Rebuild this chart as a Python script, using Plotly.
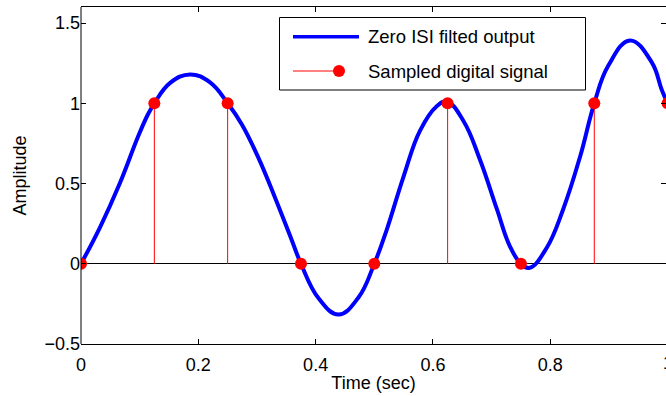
import plotly.graph_objects as go

# Zero-ISI filter output over one second
t_curve = [0, 0.032, 0.066, 0.097, 0.114, 0.125, 0.152, 0.186, 0.220, 0.25,
           0.274, 0.3025, 0.331, 0.359, 0.375, 0.405, 0.439, 0.473, 0.5,
           0.521, 0.55, 0.578, 0.606, 0.624, 0.652, 0.680, 0.709, 0.731, 0.75,
           0.765, 0.794, 0.822, 0.851, 0.875, 0.899, 0.936, 0.973, 0.99, 1.0]
amp_curve = [0, 0.224, 0.50, 0.79, 0.93, 1.0, 1.127, 1.18, 1.13, 1.0,
             0.87, 0.66, 0.41, 0.15, 0, -0.215, -0.316, -0.21, 0,
             0.21, 0.545, 0.83, 0.98, 1.01, 0.89, 0.65, 0.34, 0.11, 0,
             -0.025, 0.10, 0.34, 0.67, 1.0, 1.235, 1.392, 1.255, 1.085, 1.0]

# Digital samples, one every 0.125 s
t_samples = [0, 0.125, 0.25, 0.375, 0.5, 0.625, 0.75, 0.875, 1.0]
bits = [0, 1, 1, 0, 0, 1, 0, 1, 1]

x_ticks = [0, 0.2, 0.4, 0.6, 0.8]
x_tick_text = ["0", "0.2", "0.4", "0.6", "0.8"]
y_ticks = [-0.5, 0, 0.5, 1, 1.5]
y_tick_text = ["\u22120.5", "0", "0.5", "1", "1.5"]

legend_labels = ["Zero ISI filted output", "Sampled digital signal"]

FONT = "Liberation Sans, Arial, Helvetica, sans-serif"
W, H = 666, 396
PL, PT, PR, PB = 81, 7, 0, 52
PW, PH = W - PL - PR, H - PT - PB


def px_x(px):
    return (px - PL) / PW


def px_y(py):
    return (PT + PH - py) / PH


# stem lines from the baseline up to each sample
stem_x, stem_y = [], []
for t, b in zip(t_samples, bits):
    stem_x += [t, t, None]
    stem_y += [0, b, None]

fig = go.Figure()
fig.add_trace(go.Scatter(x=t_curve, y=amp_curve, mode="lines",
                         line=dict(color="#0000FF", width=4, shape="spline",
                                   smoothing=1.2),
                         name=legend_labels[0], showlegend=False))
fig.add_trace(go.Scatter(x=stem_x, y=stem_y, mode="lines",
                         line=dict(color="#FF0000", width=1),
                         showlegend=False, hoverinfo="skip"))
fig.add_trace(go.Scatter(x=t_samples, y=bits, mode="markers",
                         marker=dict(color="#FF0000", size=12),
                         name=legend_labels[1], showlegend=False))

# x spans slightly less than 1 so that t = 1 sits on the page edge
x_end = PW / 586.6

fig.update_xaxes(range=[0, x_end], tickvals=x_ticks, ticktext=x_tick_text,
                 ticks="inside", ticklen=5, tickcolor="black",
                 ticklabelstandoff=4,
                 showline=True, linecolor="black", linewidth=1, mirror="ticks",
                 showgrid=False, zeroline=False,
                 tickfont=dict(family=FONT, size=18, color="black"),
                 title=dict(text="Time (sec)", standoff=2,
                            font=dict(family=FONT, size=18, color="black")))
fig.update_yaxes(range=[-0.5, 1.6], tickvals=y_ticks, ticktext=y_tick_text,
                 ticks="inside", ticklen=5, tickcolor="black",
                 showline=False, mirror="ticks",
                 showgrid=False, zeroline=True, zerolinecolor="black",
                 zerolinewidth=1,
                 tickfont=dict(family=FONT, size=18, color="black"),
                 title=dict(text="Amplitude", standoff=13,
                            font=dict(family=FONT, size=18, color="black")))

shapes = [
    # left frame edge
    dict(type="line", xref="paper", yref="paper", x0=0, x1=0, y0=0, y1=1,
         line=dict(color="black", width=1)),
    # legend box
    dict(type="rect", xref="paper", yref="paper",
         x0=px_x(279.5), x1=px_x(585.5), y0=px_y(90), y1=px_y(17.5),
         line=dict(color="black", width=1), fillcolor="white", layer="above"),
    dict(type="line", xref="paper", yref="paper",
         x0=px_x(293), x1=px_x(359), y0=px_y(36.7), y1=px_y(36.7),
         line=dict(color="#0000FF", width=3.5), layer="above"),
    dict(type="line", xref="paper", yref="paper",
         x0=px_x(293), x1=px_x(339), y0=px_y(71), y1=px_y(71),
         line=dict(color="#FF0000", width=1), layer="above"),
    dict(type="circle", xref="paper", yref="paper",
         x0=px_x(333), x1=px_x(345), y0=px_y(77), y1=px_y(65),
         line=dict(color="#FF0000", width=0), fillcolor="#FF0000",
         layer="above"),
]

annotations = [
    dict(text=legend_labels[0], xref="paper", yref="paper",
         x=px_x(366), y=px_y(36.7), xanchor="left", yanchor="middle",
         showarrow=False, font=dict(family=FONT, size=18.5, color="black")),
    dict(text=legend_labels[1], xref="paper", yref="paper",
         x=px_x(366), y=px_y(71), xanchor="left", yanchor="middle",
         showarrow=False, font=dict(family=FONT, size=18.5, color="black")),
    # tick label for t = 1, just past the page edge
    dict(text="1", xref="paper", yref="paper", x=px_x(667.6), y=0,
         xanchor="center", yanchor="top", yshift=-7, showarrow=False,
         font=dict(family=FONT, size=18, color="black")),
]

fig.update_layout(width=W, height=H,
                  margin=dict(l=PL, r=PR, t=PT, b=PB, pad=0),
                  paper_bgcolor="white", plot_bgcolor="white",
                  showlegend=False, shapes=shapes, annotations=annotations)

fig.write_html("out.html")
